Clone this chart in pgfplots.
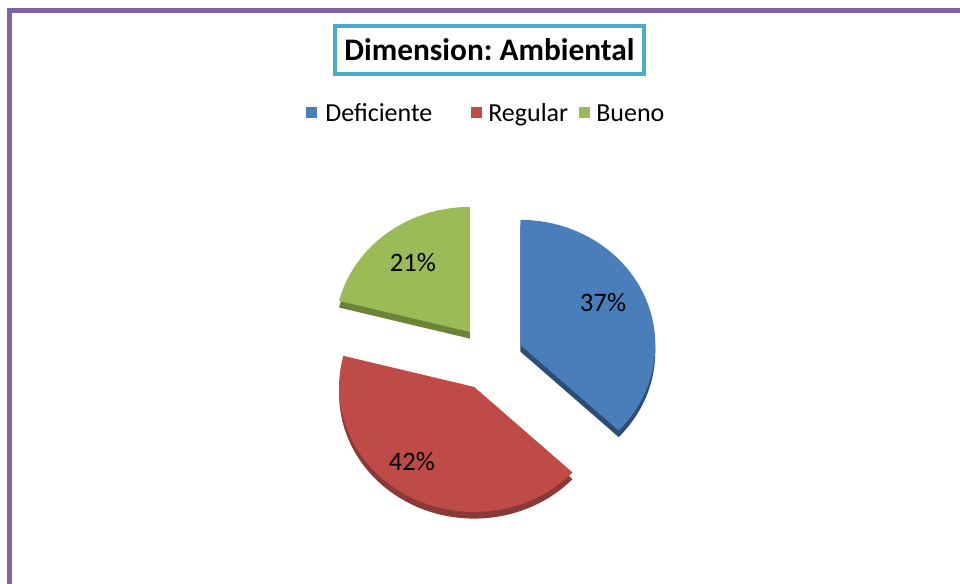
\documentclass[border=0pt]{standalone}
\usepackage{pgfplots}
\pgfplotsset{compat=1.18}
\usepackage{pgfplotstable}
\usepackage{fontspec}
\setmainfont{Carlito}
\frenchspacing

\definecolor{pblue}{HTML}{4A7EBB}
\definecolor{pbluedark}{HTML}{2C4D75}
\definecolor{pred}{HTML}{BE4B48}
\definecolor{preddark}{HTML}{8C3836}
\definecolor{pgreen}{HTML}{9BBB59}
\definecolor{pgreendark}{HTML}{6B8437}
\definecolor{pborder}{HTML}{8064A2}
\definecolor{tcyan}{HTML}{4BACC6}

\pgfplotstableread{
label value
Deficiente 37
Regular 42
Bueno 21
}\piedata

% start, end, mid, fill, dark
\newcommand\pieslice[5]{%
  \fill[#5] ([shift={(#3:24.75pt)}]axis cs:490,226) ++(0,-5pt)
     -- ++(#1:101.25pt and 93.75pt)
     arc[start angle=#1,end angle=#2,x radius=101.25pt,y radius=93.75pt] -- cycle;
  \fill[#4] ([shift={(#3:24.75pt)}]axis cs:490,226)
     -- ++(#1:101.25pt and 93.75pt)
     arc[start angle=#1,end angle=#2,x radius=101.25pt,y radius=93.75pt] -- cycle;
}

\begin{document}
\begin{tikzpicture}
\pgfplotstablegetelem{0}{value}\of\piedata\edef\vA{\pgfplotsretval}
\pgfplotstablegetelem{1}{value}\of\piedata\edef\vB{\pgfplotsretval}
\pgfplotstablegetelem{2}{value}\of\piedata\edef\vC{\pgfplotsretval}
\pgfmathsetmacro\aA{90}
\pgfmathsetmacro\aB{\aA-3.6*\vA}
\pgfmathsetmacro\aC{\aB-3.6*\vB}
\pgfmathsetmacro\aD{\aC-3.6*\vC}
\pgfmathsetmacro\mA{(\aA+\aB)/2}
\pgfmathsetmacro\mB{(\aB+\aC)/2}
\pgfmathsetmacro\mC{(\aC+\aD)/2}
\begin{axis}[hide axis, scale only axis, width=720pt, height=438pt,
  xmin=0, xmax=960, ymin=0, ymax=584, clip=true]
\addplot[draw=none] coordinates {(0,0) (960,584)};
\path (axis cs:0,0) rectangle (axis cs:960,584);
\fill[white] (axis cs:0,0) rectangle (axis cs:960,584);
% border
\draw[pborder, line width=3.75pt, line join=miter] (axis cs:9.5,-10) -- (axis cs:9.5,573.5) -- (axis cs:980,573.5);
% slices
\pieslice{\aA}{\aB}{\mA}{pblue}{pbluedark}
\pieslice{\aB}{\aC}{\mB}{pred}{preddark}
\pieslice{\aC}{\aD}{\mC}{pgreen}{pgreendark}
% labels
\node[font=\fontsize{20pt}{24pt}\selectfont] at (axis cs:603,281) {37\%};
\node[font=\fontsize{20pt}{24pt}\selectfont] at (axis cs:412,122) {42\%};
\node[font=\fontsize{20pt}{24pt}\selectfont] at (axis cs:413,321) {21\%};
% title
\node[draw=tcyan, line width=3pt, fill=white, minimum width=232pt, minimum height=35.5pt, inner sep=0pt,
  font=\fontsize{23.5pt}{28pt}\selectfont\bfseries] at (axis cs:489.5,534) {Dimension: Ambiental};
% legend
\fill[pblue] (axis cs:306,466) rectangle (axis cs:317,477);
\node[anchor=base west, inner sep=0pt, font=\fontsize{19.5pt}{23pt}\selectfont] at (axis cs:325,462) {Deficiente};
\fill[pred] (axis cs:471,466) rectangle (axis cs:482,477);
\node[anchor=base west, inner sep=0pt, font=\fontsize{19.5pt}{23pt}\selectfont] at (axis cs:488,462) {Regular};
\fill[pgreen] (axis cs:579,466) rectangle (axis cs:590,477);
\node[anchor=base west, inner sep=0pt, font=\fontsize{19.5pt}{23pt}\selectfont] at (axis cs:596,462) {Bueno};
\end{axis}
\end{tikzpicture}
\end{document}
